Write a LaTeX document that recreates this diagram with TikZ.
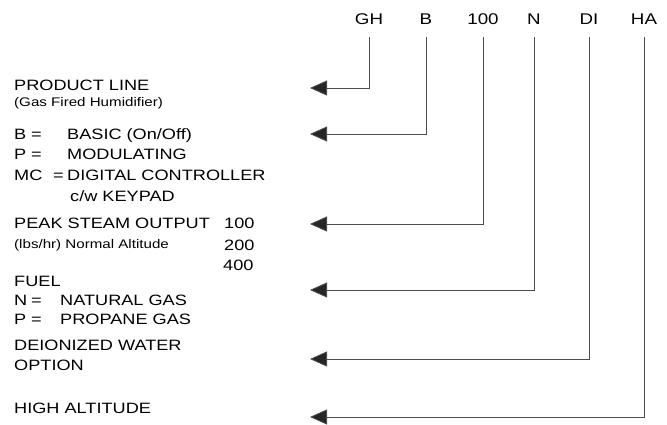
\documentclass[tikz,border=0pt]{standalone}
\usepackage{fontspec}
\setmainfont[FakeStretch=1.21]{Liberation Sans}
\usetikzlibrary{arrows.meta}
\begin{document}
\begin{tikzpicture}[x=1pt,y=-1pt,
  lbl/.style={anchor=base west,inner sep=0pt,font=\fontsize{15}{18}\selectfont},
  sml/.style={anchor=base west,inner sep=0pt,font=\fontsize{12.5}{15}\selectfont},
  hdr/.style={anchor=base,inner sep=0pt,font=\fontsize{15.5}{18}\selectfont},
  lead/.style={draw=black!70,line width=0.8pt,-{Triangle[length=17pt,width=15pt,fill=black!85]}}]
\useasboundingbox (0,0) rectangle (667,425);

% header codes
\node[hdr] (gh) at (369,25) {GH};
\node[hdr] (b) at (426,25) {B};
\node[hdr] (h100) at (483,25) {100};
\node[hdr] (n) at (534,25) {N};
\node[hdr] (di) at (589,25) {DI};
\node[hdr] (ha) at (644,25) {HA};

% arrow tips
\coordinate (a1) at (310,88);
\coordinate (a2) at (310,134);
\coordinate (a3) at (310,224);
\coordinate (a4) at (310,290);
\coordinate (a5) at (310,359);
\coordinate (a6) at (310,417);

\draw[lead] (gh.south) ++(0,12) |- (a1);
\draw[lead] (b.south) ++(0,12) |- (a2);
\draw[lead] (h100.south) ++(0,12) |- (a3);
\draw[lead] (n.south) ++(0,12) |- (a4);
\draw[lead] (di.south) ++(0,12) |- (a5);
\draw[lead] (ha.south) ++(0,12) |- (a6);

% left descriptions
\node[lbl] (pl) at (14,91) {PRODUCT LINE};
\node[sml] (plsub) at (14,107) {(Gas Fired Humidifier)};
\node[lbl] (cb) at (14,140) {\makebox[17pt][l]{B}\makebox[36pt][l]{=}BASIC (On/Off)};
\node[lbl] (cp) at (14,160) {\makebox[17pt][l]{P}\makebox[36pt][l]{=}MODULATING};
\node[lbl] (cmc) at (14,181) {\makebox[39pt][l]{MC}\makebox[14pt][l]{=}DIGITAL CONTROLLER};
\node[lbl] (ckp) at (70,201) {c/w KEYPAD};
\node[lbl] (pso) at (14,229) {PEAK STEAM OUTPUT};
\node[sml] (psosub) at (14,248) {(lbs/hr) Normal Altitude};
\node[lbl] (v100) at (224,229) {100};
\node[lbl] (v200) at (224,250) {200};
\node[lbl] (v400) at (223,270) {400};
\node[lbl] (fuel) at (14,286) {FUEL};
\node[lbl] (fn) at (14,305) {\makebox[17pt][l]{N}\makebox[29pt][l]{=}NATURAL GAS};
\node[lbl] (fp) at (14,324) {\makebox[17pt][l]{P}\makebox[29pt][l]{=}PROPANE GAS};
\node[lbl] (diw) at (14,350) {DEIONIZED WATER};
\node[lbl] (opt) at (14,370) {OPTION};
\node[lbl] (hialt) at (14,413) {HIGH ALTITUDE};
\end{tikzpicture}
\end{document}
